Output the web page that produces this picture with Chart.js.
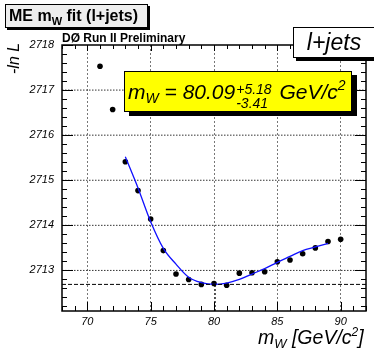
<!DOCTYPE html>
<html>
<head>
<meta charset="utf-8">
<script src="https://cdn.jsdelivr.net/npm/chart.js@4"></script>
<style>
  html, body { margin:0; padding:0; background:#fff; }
  #wrap { position:relative; width:374px; height:355px; overflow:hidden; font-family:"Liberation Sans", Arial, Helvetica, sans-serif; }
  #c { position:absolute; left:0; top:0; }
  .ov { position:absolute; white-space:nowrap; color:#000; }
</style>
</head>
<body>
<div id="wrap">
  <canvas id="c" width="374" height="355"></canvas>

  <div class="ov" id="title" style="left:5px;top:4px;width:138px;height:22px;background:#eeeeee;border:1px solid #000;box-shadow:2px 2px 0 #000;font:bold 16px/22px 'Liberation Sans', Arial, sans-serif;padding-left:3px;box-sizing:content-box;">ME m<span style="font-size:11px;position:relative;top:4px;">W</span> fit (l+jets)</div>

  <div class="ov" id="d0" style="left:62px;top:31px;font:bold 12px/14px 'Liberation Sans', Arial, sans-serif;">DØ Run II Preliminary</div>

  <div class="ov" id="chan" style="left:293px;top:27px;width:80px;height:29px;background:#fff;border:1px solid #000;box-shadow:3px 3px 0 #000;font:italic 23px/29px 'Liberation Sans', Arial, sans-serif;text-align:center;">l+jets</div>

  <div class="ov" id="fitbox" style="left:124px;top:71px;width:226px;height:39px;background:#ffff00;border:1px solid #000;box-shadow:5px 4px 0 #000;"></div>
  <div class="ov" id="eq" style="left:128px;top:81px;font:italic 21px/21px 'Liberation Sans', Arial, sans-serif;">m<span style="font-size:14px;position:relative;top:4px;">W</span> = 80.09<span style="display:inline-block;position:relative;top:1px;font-size:14px;line-height:14px;vertical-align:top;margin-left:1px;"><span style="display:block;">+5.18</span><span style="display:block;">-3.41</span></span> <span style="margin-left:2px;">GeV/c</span><span style="font-size:14px;position:relative;top:-9px;">2</span></div>

  <div class="ov" id="ytitle" style="left:0;top:0;transform-origin:0 0;transform:translate(6px,74px) rotate(-90deg);font:italic 16px/16px 'Liberation Sans', Arial, sans-serif;">-ln L</div>

  <div class="ov" id="xtitle" style="left:258px;top:328px;font:italic 19.5px/18px 'Liberation Sans', Arial, sans-serif;">m<span style="font-size:13px;position:relative;top:4px;">W</span> [GeV/c<span style="font-size:12px;position:relative;top:-8px;">2</span>]</div>
</div>

<script>
// ---- data ----
const massPoints = [71, 72, 73, 74, 75, 76, 77, 78, 79, 80, 81, 82, 83, 84, 85, 86, 87, 88, 89, 90];
const nllValues  = [2717.53, 2716.57, 2715.41, 2714.77, 2714.14, 2713.44, 2712.92, 2712.80, 2712.69, 2712.71,
                    2712.67, 2712.94, 2712.95, 2712.97, 2713.19, 2713.23, 2713.37, 2713.50, 2713.64, 2713.69];

const fitMass = [73, 74, 75, 76, 77, 78, 79, 80, 81, 82, 83, 84, 85, 86, 87, 88, 89];
const fitNll  = [2715.52, 2714.83, 2714.08, 2713.49, 2713.14, 2712.85, 2712.73, 2712.69, 2712.72, 2712.80,
                 2712.92, 2713.04, 2713.18, 2713.31, 2713.44, 2713.52, 2713.60];

const gridLevels = [2713, 2714, 2715, 2716, 2717];

const fitMinMass = 80.09;
const fitMinNll  = 2712.69;

const xRange = [68, 92];
const yRange = [2712.1, 2718];
const xMajorStep = 5, xMinorStep = 1;
const yMajorStep = 1, yMinorStep = 0.2;

// ---- build datasets ----
const pts = massPoints.map((m, i) => ({x: m, y: nllValues[i]}));
const fit = fitMass.map((m, i) => ({x: m, y: fitNll[i]}));
const hLine = [{x: xRange[0], y: fitMinNll}, {x: xRange[1], y: fitMinNll}];
const vLine = [{x: fitMinMass, y: yRange[0]}, {x: fitMinMass, y: fitMinNll}];
const gridSets = gridLevels.map(v => ({
  data: [{x: xRange[0], y: v}, {x: xRange[1], y: v}],
  type: 'line', showLine: true, borderColor: '#333', borderWidth: 1, borderDash: [1.5, 1.5],
  pointRadius: 0, fill: false, order: 10
}));

const frameTicks = {
  id: 'frameTicks',
  afterDatasetsDraw(chart) {
    const {ctx, chartArea: a, scales: {x, y}} = chart;
    ctx.save();
    ctx.strokeStyle = '#000';
    ctx.lineWidth = 1;
    ctx.setLineDash([]);
    ctx.beginPath();
    const x0 = Math.ceil(x.min / xMinorStep), x1 = Math.floor(x.max / xMinorStep);
    for (let k = x0; k <= x1; k++) {
      const v = k * xMinorStep;
      const px = Math.round(x.getPixelForValue(v)) + 0.5;
      const major = Math.abs(v / xMajorStep - Math.round(v / xMajorStep)) < 1e-6;
      const lb = major ? 9 : 5, lt = major ? 6 : 4;
      ctx.moveTo(px, a.bottom); ctx.lineTo(px, a.bottom - lb);
      ctx.moveTo(px, a.top); ctx.lineTo(px, a.top + lt);
    }
    const y0 = Math.ceil(y.min / yMinorStep - 1e-6), y1 = Math.floor(y.max / yMinorStep + 1e-6);
    for (let k = y0; k <= y1; k++) {
      const v = k * yMinorStep;
      const py = Math.round(y.getPixelForValue(v)) + 0.5;
      const major = Math.abs(v / yMajorStep - Math.round(v / yMajorStep)) < 1e-6;
      const len = major ? 11 : 5;
      ctx.moveTo(a.left, py); ctx.lineTo(a.left + len, py);
      ctx.moveTo(a.right, py); ctx.lineTo(a.right - len, py);
    }
    ctx.stroke();
    ctx.lineWidth = 1.5;
    ctx.strokeRect(a.left, a.top, a.right - a.left, a.bottom - a.top);
    ctx.restore();
  }
};

const tickFont = {family: "'Liberation Sans', Arial, sans-serif", size: 11, style: 'italic'};

new Chart(document.getElementById('c'), {
  type: 'scatter',
  data: {
    datasets: [
      ...gridSets,
      {data: hLine, type: 'line', showLine: true, borderColor: '#000', borderWidth: 1, borderDash: [4, 2], pointRadius: 0, fill: false},
      {data: vLine, type: 'line', showLine: true, borderColor: '#000', borderWidth: 1, borderDash: [2, 2], pointRadius: 0, fill: false},
      {data: fit, type: 'line', showLine: true, borderColor: '#1010ff', borderWidth: 1.3, pointRadius: 0, cubicInterpolationMode: 'monotone', fill: false},
      {data: pts, backgroundColor: '#000', borderColor: '#000', pointRadius: 2.8, pointBorderWidth: 0}
    ]
  },
  options: {
    responsive: false,
    devicePixelRatio: 1,
    animation: false,
    layout: {padding: {left: 0, top: 45, right: 8, bottom: 0}},
    plugins: {legend: {display: false}, tooltip: {enabled: false}},
    scales: {
      x: {
        type: 'linear', min: xRange[0], max: xRange[1],
        afterFit(s) { s.height = 44; },
        ticks: {stepSize: xMajorStep, includeBounds: false, color: '#000', font: tickFont, padding: 4, maxRotation: 0,
                callback: v => String(v)},
        grid: {display: true, drawOnChartArea: true, drawTicks: false, color: '#777', lineWidth: 1},
        border: {display: false, dash: [2, 2]}
      },
      y: {
        type: 'linear', min: yRange[0], max: yRange[1],
        afterFit(s) { s.width = 62; },
        ticks: {stepSize: yMajorStep, includeBounds: false, color: '#000', font: tickFont, padding: 8,
                callback: v => String(v)},
        grid: {display: false, drawTicks: false},
        border: {display: false}
      }
    }
  },
  plugins: [frameTicks]
});
</script>
</body>
</html>
